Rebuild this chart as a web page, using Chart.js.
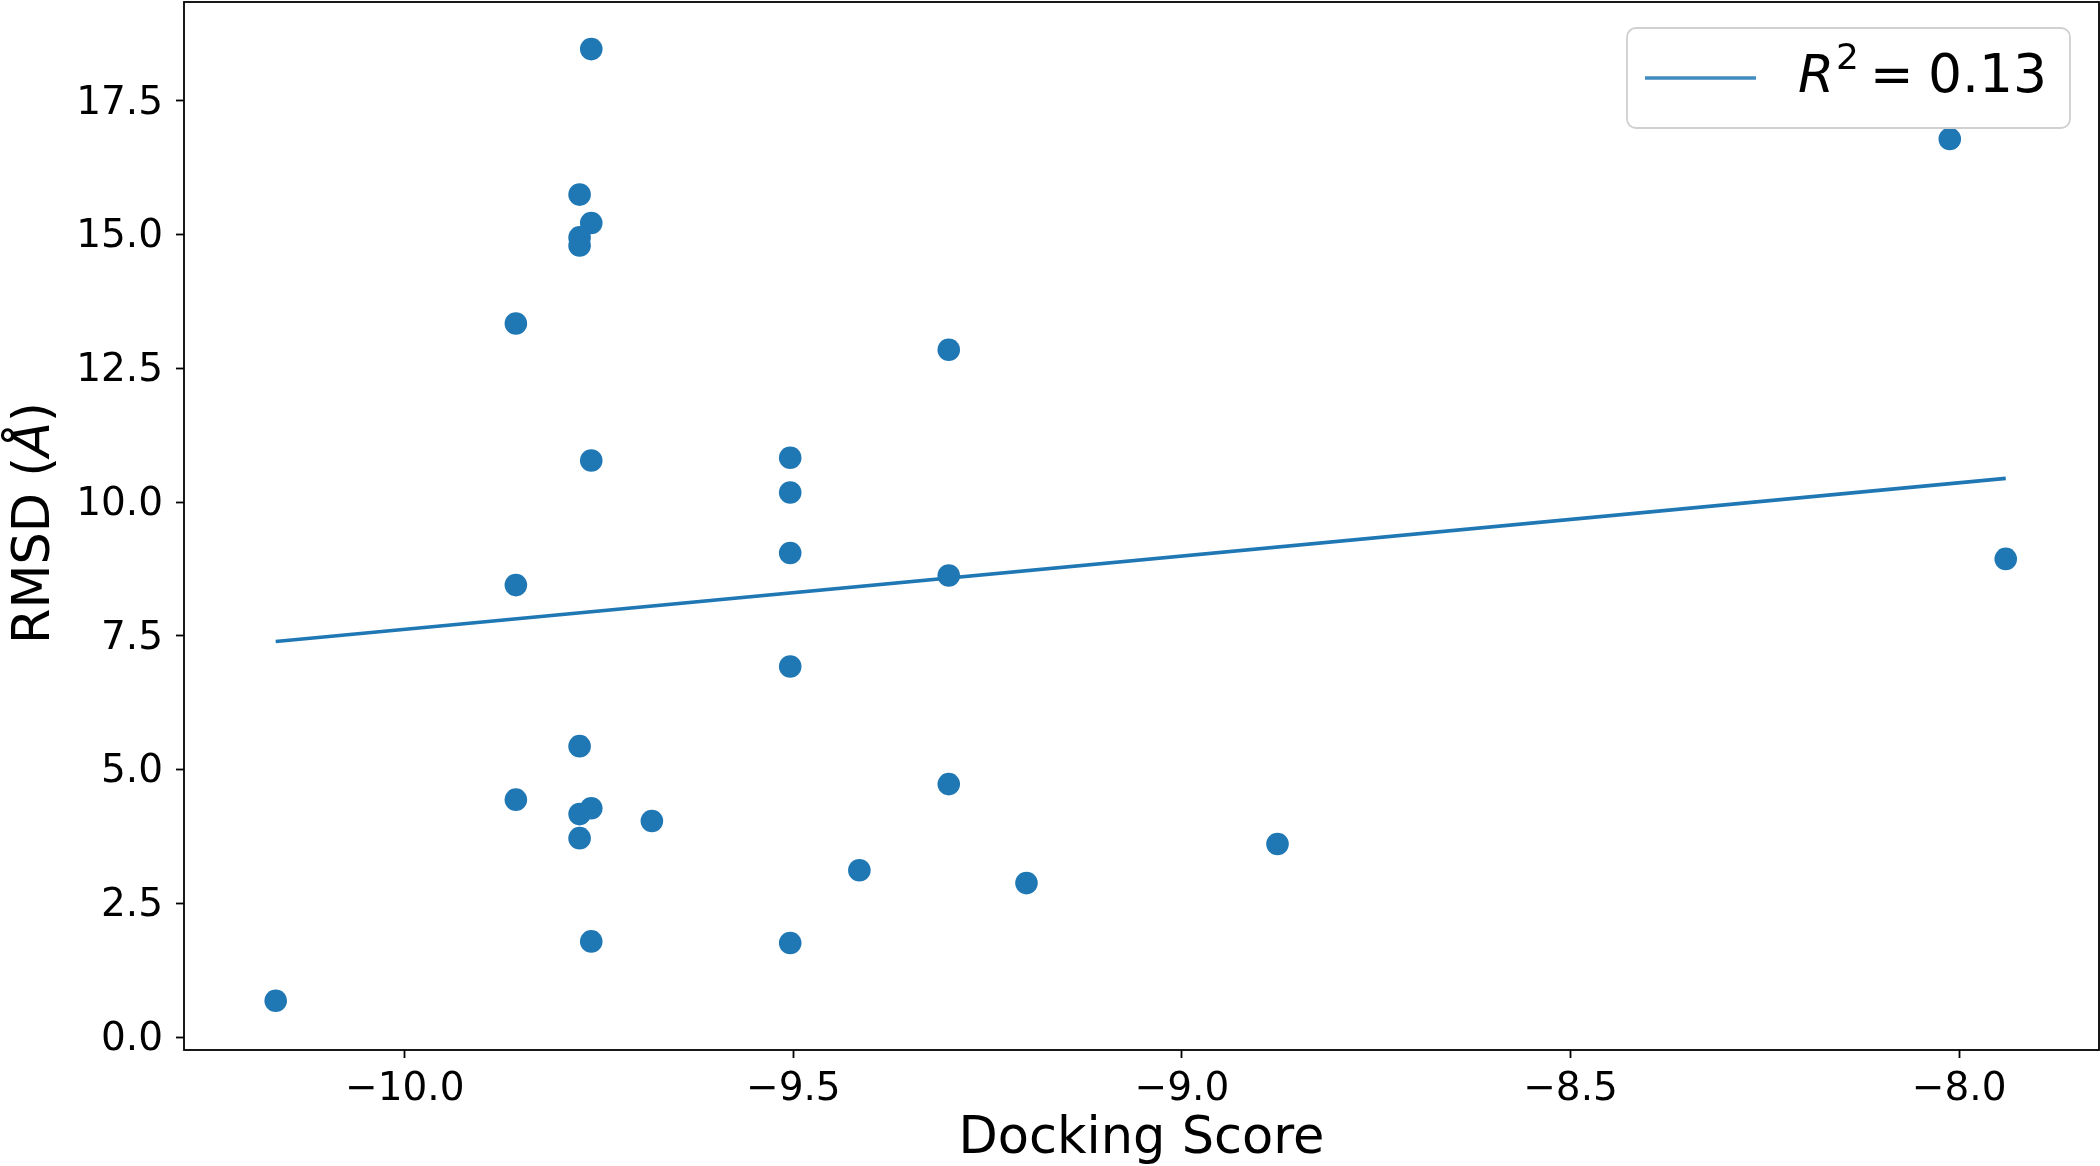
<!DOCTYPE html>
<html>
<head>
<meta charset="utf-8">
<script src="https://cdn.jsdelivr.net/npm/chart.js@4.4.1/dist/chart.umd.min.js"></script>
<style>
  html, body { margin: 0; padding: 0; background: #fff; }
  #wrap { width: 2100px; height: 1166px; }
</style>
</head>
<body>
<div id="wrap"><canvas id="chart"></canvas></div>
<script>
// values
const dockingScore = [
    -10.166, -9.857, -9.857, -9.857, -9.760, -9.775, -9.760, -9.775, -9.775, -9.760,
    -9.775, -9.775, -9.760, -9.775, -9.760, -9.682, -9.504, -9.504, -9.504, -9.504,
    -9.504, -9.415, -9.300, -9.300, -9.300, -9.200, -8.877, -8.012, -7.940
];
const rmsd = [
    0.68, 13.34, 8.45, 4.44, 18.47, 15.75, 15.22, 14.95, 14.80, 10.78,
    5.44, 4.17, 4.28, 3.72, 1.79, 4.04, 10.83, 10.18, 9.05, 6.93,
    1.76, 3.12, 12.85, 8.63, 4.73, 2.88, 3.61, 16.79, 8.94
];
const xTicks = [-10, -9.5, -9, -8.5, -8];
const yTicks = [0, 2.5, 5, 7.5, 10, 12.5, 15, 17.5];
const r2Text = '0.13';

const blue = '#1f77b4';
const FONT = 'DejaVu Sans';

// ordinary least squares, like np.polyfit(x, y, 1)
function linearFit(xs, ys) {
    const n = xs.length;
    const mx = xs.reduce((a, b) => a + b, 0) / n;
    const my = ys.reduce((a, b) => a + b, 0) / n;
    let sxy = 0, sxx = 0;
    for (let i = 0; i < n; i++) {
        sxy += (xs[i] - mx) * (ys[i] - my);
        sxx += (xs[i] - mx) * (xs[i] - mx);
    }
    const m = sxy / sxx;
    return { m, b: my - m * mx };
}

const points = dockingScore.map((x, i) => ({ x, y: rmsd[i] }));
const fit = linearFit(dockingScore, rmsd);
const xMin = Math.min(...dockingScore);
const xMax = Math.max(...dockingScore);
const fitLine = [xMin, xMax].map(x => ({ x, y: fit.m * x + fit.b }));

const fmt = v => v.toFixed(1).replace('-', '\u2212');

// axes frame, legend and the y label (it has an italic Å)
const extras = {
    id: 'extras',
    afterDraw(chart) {
        const ctx = chart.ctx;
        const a = chart.chartArea;
        ctx.save();
        ctx.strokeStyle = '#000';
        ctx.lineWidth = 1.8;
        ctx.strokeRect(a.left, a.top, a.right - a.left, a.bottom - a.top);

        // y axis label
        ctx.save();
        ctx.translate(49, 523);
        ctx.rotate(-Math.PI / 2);
        ctx.fillStyle = '#000';
        ctx.textBaseline = 'alphabetic';
        const parts = [['RMSD (', ''], ['\u00C5', 'italic '], [')', '']];
        let total = 0;
        parts.forEach(p => { ctx.font = p[1] + '51px "' + FONT + '"'; total += ctx.measureText(p[0]).width; });
        let cx = -total / 2;
        parts.forEach(p => {
            ctx.font = p[1] + '51px "' + FONT + '"';
            ctx.fillText(p[0], cx, 0);
            cx += ctx.measureText(p[0]).width;
        });
        ctx.restore();

        // legend
        const bx = 1627, by = 28, bw = 443, bh = 100, r = 9;
        ctx.beginPath();
        ctx.roundRect(bx, by, bw, bh, r);
        ctx.fillStyle = 'rgba(255,255,255,0.8)';
        ctx.fill();
        ctx.strokeStyle = '#d0d0d0';
        ctx.lineWidth = 1.8;
        ctx.stroke();

        ctx.beginPath();
        ctx.moveTo(1645, 78);
        ctx.lineTo(1756, 78);
        ctx.strokeStyle = 'rgba(31,119,180,0.85)';
        ctx.lineWidth = 3.6;
        ctx.stroke();

        ctx.fillStyle = '#000';
        ctx.textBaseline = 'alphabetic';
        ctx.font = 'italic 52px "' + FONT + '"';
        ctx.fillText('R', 1798, 92);
        ctx.font = '36px "' + FONT + '"';
        ctx.fillText('2', 1836, 69);
        ctx.font = '52px "' + FONT + '"';
        ctx.fillText('=', 1870, 92);
        ctx.font = '53.5px "' + FONT + '"';
        ctx.fillText(r2Text, 1928, 92);
        ctx.restore();
    }
};

new Chart(document.getElementById('chart'), {
    type: 'scatter',
    data: {
        datasets: [{
            data: points,
            backgroundColor: blue,
            borderWidth: 0,
            pointRadius: 11.3,
            pointHoverRadius: 11.3
        }, {
            type: 'line',
            data: fitLine,
            showLine: true,
            fill: false,
            borderColor: blue,
            borderWidth: 3.6,
            pointRadius: 0
        }]
    },
    options: {
        responsive: true,
        maintainAspectRatio: false,
        animation: false,
        events: [],
        layout: { autoPadding: false, padding: { top: 2, right: 1, left: 0, bottom: 0 } },
        plugins: {
            legend: { display: false },
            tooltip: { enabled: false }
        },
        scales: {
            x: {
                type: 'linear',
                min: -10.284,
                max: -7.820,
                afterFit: s => { s.height = 116; s.paddingLeft = 0; s.paddingRight = 0; },
                afterBuildTicks: s => { s.ticks = xTicks.map(v => ({ value: v })); },
                grid: { drawOnChartArea: false, drawTicks: true, tickLength: 8, tickWidth: 1.8, tickColor: '#000' },
                border: { display: false },
                ticks: {
                    padding: 8,
                    color: '#000',
                    font: { family: FONT, size: 39 },
                    callback: v => fmt(v)
                },
                title: {
                    display: true,
                    text: 'Docking Score',
                    color: '#000',
                    font: { family: FONT, size: 51 },
                    padding: { top: 0, bottom: -4 }
                }
            },
            y: {
                type: 'linear',
                min: -0.24,
                max: 19.35,
                afterFit: s => { s.width = 184; s.paddingTop = 0; s.paddingBottom = 0; },
                afterBuildTicks: s => { s.ticks = yTicks.map(v => ({ value: v })); },
                grid: { drawOnChartArea: false, drawTicks: true, tickLength: 8, tickWidth: 1.8, tickColor: '#000' },
                border: { display: false },
                ticks: {
                    padding: 13,
                    labelOffset: 2.6,
                    color: '#000',
                    font: { family: FONT, size: 39 },
                    callback: v => fmt(v)
                }
            }
        }
    },
    plugins: [extras]
});
</script>
</body>
</html>
